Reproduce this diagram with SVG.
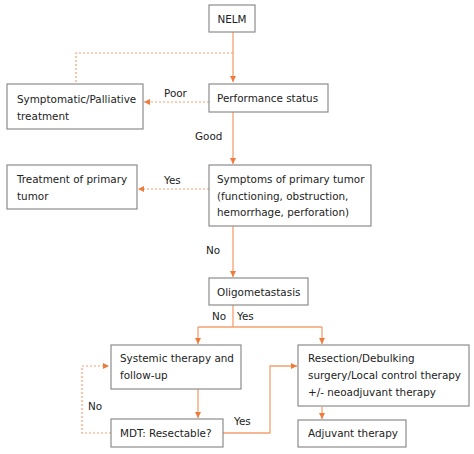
<svg xmlns="http://www.w3.org/2000/svg" width="474" height="454" viewBox="0 0 474 454">
<defs>
<marker id="ah" viewBox="0 0 6 6" refX="6" refY="3" markerWidth="6" markerHeight="6" markerUnits="userSpaceOnUse" orient="auto">
<path d="M0,0 L6,3 L0,6 z" fill="#f07a3c"/>
</marker>
</defs>
<style>
.box{fill:#fff;stroke:#8c8c8c;stroke-width:1.2}
.t{font-family:"DejaVu Sans",Verdana,sans-serif;font-size:10.4px;fill:#222}
.c{fill:none;stroke:#f5a070;stroke-width:1.3}
.d{fill:none;stroke:#f5a070;stroke-width:1.2;stroke-dasharray:2,2}
</style>
<rect width="474" height="454" fill="#fff"/>
<g id="connectors">
<path class="c" d="M233,32 V82" marker-end="url(#ah)"/>
<path class="d" d="M233,53 H76 V84"/>
<path class="d" d="M209,102 H144" marker-end="url(#ah)"/>
<path class="c" d="M233,112 V164" marker-end="url(#ah)"/>
<path class="d" d="M209,189 H138" marker-end="url(#ah)"/>
<path class="c" d="M233,226 V277" marker-end="url(#ah)"/>
<path class="c" d="M233,305 V327"/>
<path class="c" d="M198,327 H322"/>
<path class="c" d="M198,327 V344" marker-end="url(#ah)"/>
<path class="c" d="M322,327 V344" marker-end="url(#ah)"/>
<path class="c" d="M198,389 V418" marker-end="url(#ah)"/>
<path class="c" d="M223,433 H270 V366 H297" marker-end="url(#ah)"/>
<path class="d" d="M111,433 H82 V366 H109" marker-end="url(#ah)"/>
<path class="c" d="M322,407 V419" marker-end="url(#ah)"/>
<text class="t" x="164" y="97">Poor</text>
<text class="t" x="195" y="140">Good</text>
<text class="t" x="164" y="184">Yes</text>
<text class="t" x="206" y="254">No</text>
<text class="t" x="212" y="320">No</text>
<text class="t" x="237" y="320">Yes</text>
<text class="t" x="88" y="410">No</text>
<text class="t" x="234" y="425">Yes</text>
</g>
<g id="nelm"><rect class="box" x="209" y="5" width="46" height="27"/><text class="t" x="232" y="22.5" text-anchor="middle">NELM</text></g>
<g id="performance"><rect class="box" x="209" y="84" width="119" height="28"/><text class="t" x="217" y="102">Performance status</text></g>
<g id="symptomatic"><rect class="box" x="7" y="84" width="136" height="45"/><text class="t" x="17" y="103">Symptomatic/Palliative</text><text class="t" x="17" y="120">treatment</text></g>
<g id="symptoms"><rect class="box" x="209" y="165" width="162" height="61"/><text class="t" x="217" y="183">Symptoms of primary tumor</text><text class="t" x="217" y="200">(functioning, obstruction,</text><text class="t" x="217" y="216">hemorrhage, perforation)</text></g>
<g id="treatment"><rect class="box" x="7" y="165" width="130" height="44"/><text class="t" x="17" y="183">Treatment of primary</text><text class="t" x="17" y="200">tumor</text></g>
<g id="oligo"><rect class="box" x="209" y="278" width="99" height="27"/><text class="t" x="217" y="296">Oligometastasis</text></g>
<g id="systemic"><rect class="box" x="111" y="345" width="130" height="44"/><text class="t" x="120" y="362">Systemic therapy and</text><text class="t" x="120" y="379">follow-up</text></g>
<g id="resection"><rect class="box" x="298" y="345" width="171" height="61"/><text class="t" x="308" y="362">Resection/Debulking</text><text class="t" x="308" y="379">surgery/Local control therapy</text><text class="t" x="308" y="396">+/- neoadjuvant therapy</text></g>
<g id="mdt"><rect class="box" x="111" y="419" width="112" height="28"/><text class="t" x="120" y="437">MDT: Resectable?</text></g>
<g id="adjuvant"><rect class="box" x="298" y="420" width="108" height="27"/><text class="t" x="308" y="437">Adjuvant therapy</text></g>
</svg>
